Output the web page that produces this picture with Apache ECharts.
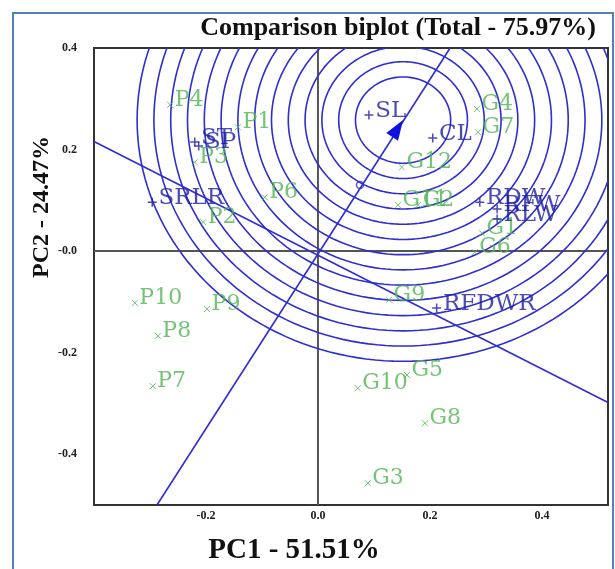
<!DOCTYPE html>
<html>
<head>
<meta charset="utf-8">
<script src="https://cdn.jsdelivr.net/npm/echarts@6/dist/echarts.min.js"></script>
<style>
html,body{margin:0;padding:0;background:#fff;}
#c{width:615px;height:569px;}
</style>
</head>
<body>
<div id="c"></div>
<script>
// ---------- data ----------
const titleText = 'Comparison biplot (Total - 75.97%)';
const xAxisName = 'PC1 - 51.51%';
const yAxisName = 'PC2 - 24.47%';

const xTicks = [-0.2, 0, 0.2, 0.4];
const xTickLabels = ['-0.2', '0.0', '0.2', '0.4'];
const yTicks = [-0.4, -0.2, 0, 0.2, 0.4];
const yTickLabels = ['-0.4', '-0.2', '-0.0', '0.2', '0.4'];

const genoNames = ['P4','P1','P3','P6','P2','P10','P9','P8','P7',
                   'G4','G7','G12','G11','G2','G1','G6','G9','G5','G10','G8','G3'];
const genoX = [-0.264,-0.143,-0.220,-0.095,-0.205,-0.327,-0.198,-0.286,-0.295,
               0.284,0.286,0.150,0.143,0.179,0.293,0.280,0.127,0.159,0.071,0.191,0.089];
const genoY = [0.288,0.244,0.175,0.106,0.057,-0.102,-0.114,-0.167,-0.266,
               0.280,0.234,0.165,0.091,0.091,0.035,-0.002,-0.096,-0.244,-0.270,-0.339,-0.457];

const traitNames = ['SL','CL','ST','SP','SRLR','RDW','RFW','RLW','RFDWR'];
const traitX = [0.091,0.205,-0.220,-0.213,-0.296,0.289,0.320,0.320,0.212];
const traitY = [0.268,0.223,0.215,0.207,0.096,0.096,0.083,0.063,-0.112];

const idealPoint = [0.152, 0.258];
const avgPoint = [0.075, 0.130];
const ringRadii = [0.085,0.115,0.145,0.175,0.205,0.235,0.265,0.295,0.325,0.355,0.385,0.415,0.445,0.475];
const atcLine = [[-0.2875,-0.5],[0.236,0.4]];
const perpLine = [[-0.4,0.216],[0.518,-0.298]];

// ---------- styling ----------
const serif = '"Liberation Serif","DejaVu Serif",serif';
const wideSerif = '"DejaVu Serif","Liberation Serif",serif';
const green = '#52b452';
const navy = '#1e1ea0';
const lineBlue = '#2e2ed2';

function fmt(ticks, labels) {
  return function (v) {
    const i = ticks.findIndex(t => Math.abs(t - v) < 1e-6);
    return i < 0 ? '' : labels[i];
  };
}

const chart = echarts.init(document.getElementById('c'));

const option = {
  animation: false,
  backgroundColor: '#fff',
  grid: {left: 94, top: 48, width: 514, height: 457, show: true,
         borderColor: '#333', borderWidth: 2, backgroundColor: 'transparent'},
  xAxis: {type: 'value', min: -0.4, max: 0.518, interval: 0.2,
    axisLine: {show: false}, axisTick: {show: false}, splitLine: {show: false},
    axisLabel: {formatter: fmt(xTicks, xTickLabels), margin: 5, fontFamily: serif,
      fontSize: 12, fontWeight: 'bold', color: '#222', showMinLabel: true, showMaxLabel: true}},
  yAxis: {type: 'value', min: -0.5, max: 0.4, interval: 0.1,
    axisLine: {show: false}, axisTick: {show: false}, splitLine: {show: false},
    axisLabel: {formatter: fmt(yTicks, yTickLabels), margin: 17, fontFamily: serif,
      fontSize: 12, fontWeight: 'bold', color: '#222', showMinLabel: true, showMaxLabel: true}},
  graphic: [
    {type: 'rect', shape: {x: 13, y: 13, width: 600, height: 600},
     style: {fill: 'none', stroke: '#4f81bd', lineWidth: 2}, silent: true},
    {type: 'text', x: 398, y: 28, style: {text: titleText, font: 'bold 26px ' + serif,
      fill: '#111', textAlign: 'center', textVerticalAlign: 'middle'}},
    {type: 'text', x: 294, y: 551, style: {text: xAxisName, font: 'bold 29px ' + serif,
      fill: '#111', textAlign: 'center', textVerticalAlign: 'middle'}},
    {type: 'text', x: 42, y: 207, rotation: Math.PI / 2, style: {text: yAxisName,
      font: 'bold 24px ' + serif, fill: '#111', textAlign: 'center', textVerticalAlign: 'middle'}}
  ],
  series: [
    {type: 'line', data: [[-0.4, 0], [0.518, 0]], symbol: 'none', silent: true,
     lineStyle: {color: '#555', width: 2}, z: 1},
    {type: 'line', data: [[0, -0.5], [0, 0.4]], symbol: 'none', silent: true,
     lineStyle: {color: '#555', width: 2}, z: 1},
    {type: 'custom', z: 2, silent: true,
     data: ringRadii.map(r => [idealPoint[0], idealPoint[1], r]),
     encode: {x: 0, y: 1},
     renderItem: function (params, api) {
       const cx = api.value(0), cy = api.value(1), r = api.value(2);
       const pts = [];
       for (let a = 0; a <= 360; a += 2) {
         const t = a * Math.PI / 180;
         pts.push(api.coord([cx + r * Math.cos(t), cy + r * Math.sin(t)]));
       }
       const cs = params.coordSys;
       return {type: 'group', clipPath: {type: 'rect', shape: {x: cs.x, y: cs.y, width: cs.width, height: cs.height}},
         children: [{type: 'polyline', shape: {points: pts},
           style: {stroke: lineBlue, lineWidth: 1.6, fill: null}}]};
     }},
    {type: 'line', data: atcLine, symbol: 'none', silent: true,
     lineStyle: {color: lineBlue, width: 1.6}, z: 2},
    {type: 'line', data: perpLine, symbol: 'none', silent: true,
     lineStyle: {color: lineBlue, width: 1.6}, z: 2},
    {type: 'custom', z: 4, silent: true, data: [idealPoint], encode: {x: 0, y: 1},
     renderItem: function (params, api) {
       const tip = api.coord([api.value(0), api.value(1)]);
       const o = api.coord([0, 0]);
       let dx = tip[0] - o[0], dy = tip[1] - o[1];
       const L = Math.sqrt(dx * dx + dy * dy); dx /= L; dy /= L;
       const len = 20, hw = 7;
       const bx = tip[0] - dx * len, by = tip[1] - dy * len;
       return {type: 'polygon', shape: {points: [tip, [bx - dy * hw, by + dx * hw], [bx + dy * hw, by - dx * hw]]},
         style: {fill: '#1010e0'}};
     }},
    {type: 'scatter', data: [avgPoint], symbol: 'circle', symbolSize: 7, z: 4,
     itemStyle: {color: 'transparent', borderColor: lineBlue, borderWidth: 1.5}},
    {type: 'scatter', z: 5,
     data: genoNames.map((n, i) => ({name: n, value: [genoX[i], genoY[i]]})),
     symbol: 'path://M0,0L10,10M10,0L0,10', symbolSize: 6,
     itemStyle: {color: 'transparent', borderColor: green, borderWidth: 1},
     label: {show: true, position: 'right', distance: 1, offset: [0, -5],
       formatter: '{b}', fontFamily: wideSerif, fontSize: 22, color: green}},
    {type: 'scatter', z: 6,
     data: traitNames.map((n, i) => ({name: n, value: [traitX[i], traitY[i]]})),
     symbol: 'path://M5,0L5,10M0,5L10,5', symbolSize: 9,
     itemStyle: {color: 'transparent', borderColor: navy, borderWidth: 1.5},
     label: {show: true, position: 'right', distance: 1, offset: [0, -4],
       formatter: '{b}', fontFamily: wideSerif, fontSize: 23, color: navy}}
  ]
};
chart.setOption(option);
</script>
</body>
</html>
